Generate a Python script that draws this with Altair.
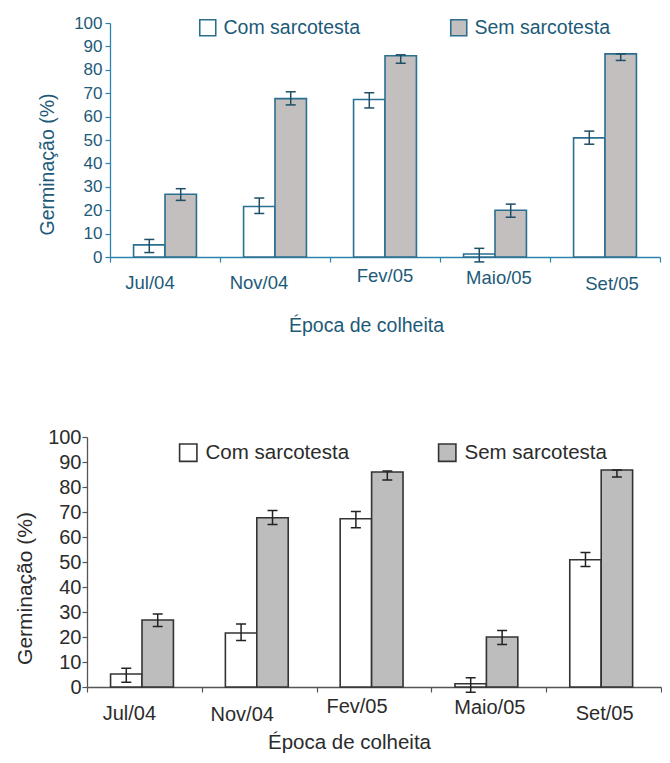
import altair as alt
import pandas as pd

epocas = ["Jul/04", "Nov/04", "Fev/05", "Maio/05", "Set/05"]
series = ["Com sarcotesta", "Sem sarcotesta"]
com_vals = [5.2, 21.6, 67.3, 1.3, 50.9]
com_lo = [1.9, 18.6, 63.7, -2.1, 48.2]
com_hi = [7.5, 25.2, 70.2, 3.7, 53.8]
sem_vals = [26.8, 67.7, 86.0, 20.0, 86.8]
sem_lo = [24.2, 65.0, 82.8, 17.0, 84.0]
sem_hi = [29.2, 70.6, 86.4, 22.6, 86.8]
y_ticks = list(range(0, 101, 10))

rows = []
for i, e in enumerate(epocas):
    rows.append(dict(epoca=e, serie=series[0], val=com_vals[i], lo=com_lo[i], hi=com_hi[i]))
    rows.append(dict(epoca=e, serie=series[1], val=sem_vals[i], lo=sem_lo[i], hi=sem_hi[i]))
df = pd.DataFrame(rows)
cat_df = pd.DataFrame({"epoca": epocas})

FONT = "Liberation Sans"


def panel(plot_w, height, s):
    shift = s["shift"]
    x_axis = alt.Axis(title="Época de colheita", labels=False, tickBand="extent",
                      titleFont=FONT, titleFontSize=s["xtitle"], titleFontWeight="normal",
                      titleColor=s["text"], titlePadding=s["xtpad"],
                      titleX=s["xtx"] + shift,
                      domainColor=s["line"], domainWidth=1.3, tickColor=s["line"],
                      tickWidth=1.2, tickSize=5)
    x = alt.X("epoca:N", sort=epocas,
              scale=alt.Scale(paddingInner=0, paddingOuter=0, range=[shift, shift + plot_w]),
              axis=x_axis)
    xo = alt.XOffset("serie:N", sort=series,
                     scale=alt.Scale(paddingInner=0, paddingOuter=0.75))
    yax = alt.Axis(title="Germinação (%)", values=y_ticks, grid=False, offset=-shift,
                   labelFont=FONT, labelFontSize=s["ylab"], labelColor=s["text"],
                   labelPadding=s["ylpad"],
                   titleFont=FONT, titleFontSize=s["ytitle"], titleFontWeight="normal",
                   titleColor=s["text"], titlePadding=s["ytpad"], titleY=s["yty"],
                   domainColor=s["line"], domainWidth=1.3, tickColor=s["line"],
                   tickWidth=1.2, tickSize=5)
    yscale = alt.Scale(domain=[0, 100], nice=False)

    bars = alt.Chart(df).mark_bar(stroke=s["stroke"], strokeWidth=1.6).encode(
        x=x, xOffset=xo,
        y=alt.Y("val:Q", scale=yscale, axis=yax),
        fill=alt.Fill("serie:N", sort=series,
                      scale=alt.Scale(domain=series, range=["#ffffff", s["gray"]]),
                      legend=alt.Legend(title=None, orient="none", direction="horizontal",
                                        legendX=s["legx"] + shift, legendY=s["legy"],
                                        columnPadding=s["colpad"], symbolType="square",
                                        symbolSize=s["symsize"], symbolStrokeColor=s["stroke"],
                                        symbolStrokeWidth=1.6, labelOffset=s["laboff"],
                                        labelFont=FONT, labelFontSize=s["leg"],
                                        labelColor=s["text"])),
    )
    rules = alt.Chart(df).mark_rule(color=s["err"], strokeWidth=1.5).encode(
        x=x, xOffset=xo,
        y=alt.Y("lo:Q", scale=yscale, axis=yax), y2="hi:Q")
    cap_lo = alt.Chart(df).mark_tick(orient="horizontal", size=10, thickness=1.5,
                                     color=s["err"], opacity=1).encode(
        x=x, xOffset=xo, y=alt.Y("lo:Q", scale=yscale, axis=yax))
    cap_hi = alt.Chart(df).mark_tick(orient="horizontal", size=10, thickness=1.5,
                                     color=s["err"], opacity=1).encode(
        x=x, xOffset=xo, y=alt.Y("hi:Q", scale=yscale, axis=yax))

    layers = [bars, rules, cap_lo, cap_hi]
    # category labels under each band (slightly staggered, as in the original figure)
    for lab in epocas:
        dx, dy = s["labpos"][lab]
        layers.append(
            alt.Chart(cat_df).transform_filter(alt.datum.epoca == lab).mark_text(
                font=FONT, fontSize=s["xlab"], color=s["text"], align="center",
                baseline="middle", dx=dx).encode(
                x=x, y=alt.value(height + dy), text="epoca:N"))
    return alt.layer(*layers).properties(width=shift + plot_w, height=height)


top_style = dict(shift=23, text="#1d5a78", line="#2c83ad", stroke="#2a6f90", err="#1d4f66",
                 gray="#c3bfbf", xlab=18.5,
                 labpos={"Jul/04": (-15, 26), "Nov/04": (-16, 26), "Fev/05": (0, 19),
                         "Maio/05": (4, 21), "Set/05": (7, 27)},
                 xtitle=19.5, xtpad=54, xtx=256, ylab=17, ylpad=3, ytitle=19.5, ytpad=16,
                 yty=141, legx=88, legy=-5, colpad=86, symsize=256, laboff=6, leg=19.5)
bot_style = dict(shift=0, text="#2b2b2b", line="#555555", stroke="#333333", err="#222222",
                 gray="#bdbdbd", xlab=20,
                 labpos={"Jul/04": (-15, 27), "Nov/04": (-17, 28), "Fev/05": (-17, 20),
                         "Maio/05": (1, 21), "Set/05": (1, 27)},
                 xtitle=20.5, xtpad=40, xtx=262, ylab=20, ylpad=1, ytitle=21, ytpad=12,
                 yty=151, legx=91, legy=5, colpad=85, symsize=300, laboff=7, leg=20.5)

top = panel(550, 234, top_style)
bottom = panel(574, 250, bot_style)

chart = alt.ConcatChart(
    concat=[top, bottom], columns=1, spacing=91,
    background="white",
    padding={"left": 6, "top": 6, "right": 0, "bottom": 0},
).resolve_scale(fill="independent").resolve_legend(fill="independent").configure_view(strokeWidth=0)

chart.save("out.html", embed_options={"renderer": "svg", "actions": False})
